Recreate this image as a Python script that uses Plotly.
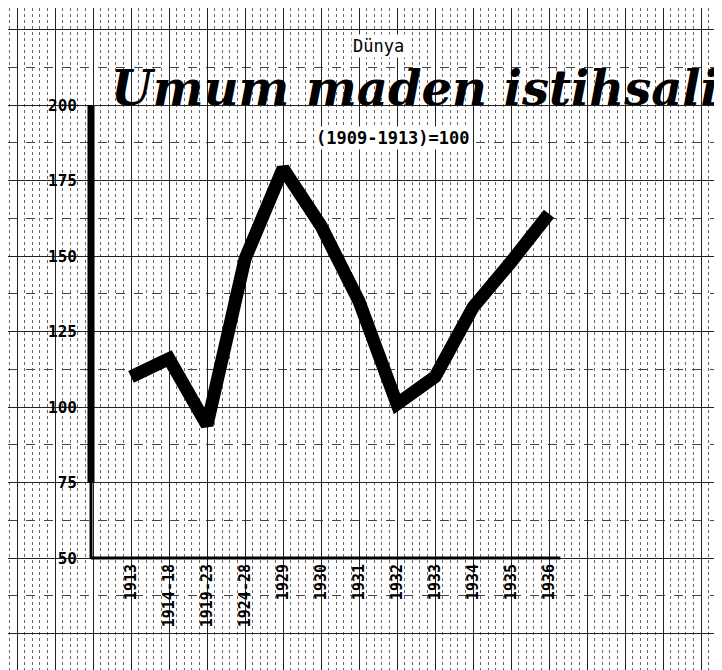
import plotly.graph_objects as go

categories = ["1913", "1914-18", "1919-23", "1924-28", "1929", "1930",
              "1931", "1932", "1933", "1934", "1935", "1936"]
values = [110, 116, 94, 149, 179, 160, 135, 101, 110, 133, 148, 164]
y_tick_vals = [50, 75, 100, 125, 150, 175, 200]
y_tick_text = ["50", "75", "100", "125", "150", "175", "200"]

W, H = 722, 670
X0_PX, X_STEP = 123, 38.0
Y200_PX, Y_PER = 97, 3.02
x_range = [-X0_PX / X_STEP, (W - X0_PX) / X_STEP]
y_range = [200 - (H - Y200_PX) / Y_PER, 200 + Y200_PX / Y_PER]

xs = list(range(len(categories)))

grid_x = list(range(-3, 16))
grid_x_text = [categories[i] if 0 <= i < len(categories) else "" for i in grid_x]
grid_y = [v for v in range(25, 250, 25)]
grid_y_text = [y_tick_text[y_tick_vals.index(v)] if v in y_tick_vals else "" for v in grid_y]

fig = go.Figure()
fig.add_trace(go.Scatter(
    x=xs, y=values, mode="lines",
    line=dict(color="black", width=13),
    hoverinfo="skip", showlegend=False,
))

axis_x_pos = (83 - X0_PX) / X_STEP
fig.add_shape(type="line", xref="x", yref="y", x0=axis_x_pos, x1=axis_x_pos,
              y0=200, y1=75, line=dict(color="black", width=7), layer="above")
fig.add_shape(type="line", xref="x", yref="y", x0=axis_x_pos, x1=axis_x_pos,
              y0=75, y1=50, line=dict(color="black", width=3), layer="above")
fig.add_shape(type="line", xref="x", yref="y", x0=axis_x_pos, x1=11.3,
              y0=50, y1=50, line=dict(color="black", width=3), layer="above")

fig.update_layout(
    width=W, height=H,
    margin=dict(l=0, r=0, t=0, b=0),
    paper_bgcolor="white", plot_bgcolor="white",
    showlegend=False,
    xaxis=dict(
        range=x_range, domain=[0, 1], anchor="free", position=1 - 552 / H,
        tickmode="array", tickvals=grid_x, ticktext=grid_x_text,
        tickangle=-90, ticks="",
        tickfont=dict(family="DejaVu Sans Mono", size=15, color="black", weight="bold"),
        showgrid=True, gridcolor="#222", gridwidth=1.2,
        minor=dict(dtick=0.2, tick0=0, showgrid=True, gridcolor="#666",
                   griddash="dot", gridwidth=1),
        zeroline=False, showline=False, fixedrange=True,
    ),
    yaxis=dict(
        range=y_range, domain=[0, 1], anchor="free", position=83 / W,
        tickmode="array", tickvals=grid_y, ticktext=grid_y_text, ticks="",
        ticklabelstandoff=14,
        tickfont=dict(family="DejaVu Sans Mono", size=16, color="black", weight="bold"),
        showgrid=True, gridcolor="#222", gridwidth=1.2,
        minor=dict(dtick=12.5, tick0=0, showgrid=True, gridcolor="#444",
                   griddash="dash", gridwidth=1),
        zeroline=False, showline=False, fixedrange=True,
    ),
    annotations=[
        dict(text="Dünya", x=370 / W, y=1 - 38 / H, xref="paper", yref="paper",
             xanchor="center", yanchor="middle",
             showarrow=False, font=dict(family="DejaVu Sans Mono", size=17, color="black"),
             bgcolor="white"),
        dict(text="<b><i>Umum maden istihsali</i></b>", x=407 / W, y=1 - 80 / H,
             xref="paper", yref="paper", xanchor="center", yanchor="middle",
             showarrow=False,
             font=dict(family="DejaVu Serif", size=48, color="black")),
        dict(text="<b>(1909-1913)=100</b>", x=385 / W, y=1 - 130 / H,
             xref="paper", yref="paper", xanchor="center", yanchor="middle",
             showarrow=False,
             font=dict(family="DejaVu Sans Mono", size=17, color="black"),
             bgcolor="white"),
    ],
)

fig.write_html("out.html")
